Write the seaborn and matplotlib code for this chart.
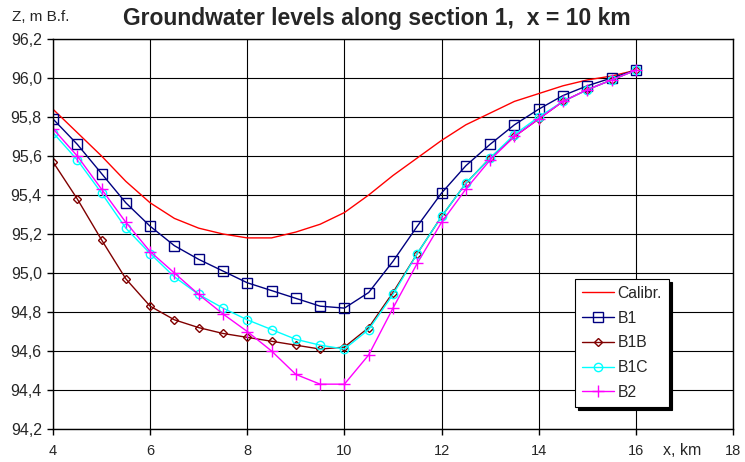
import numpy as np
import pandas as pd
import seaborn as sns
import matplotlib
matplotlib.use("Agg")
import matplotlib.pyplot as plt
from matplotlib.ticker import FuncFormatter

# distance along section, km
x_km = [4.0, 4.5, 5.0, 5.5, 6.0, 6.5, 7.0, 7.5, 8.0, 8.5, 9.0, 9.5, 10.0,
        10.5, 11.0, 11.5, 12.0, 12.5, 13.0, 13.5, 14.0, 14.5, 15.0, 15.5, 16.0]

calibr = [95.84, 95.72, 95.60, 95.47, 95.36, 95.28, 95.23, 95.20, 95.18, 95.18,
          95.21, 95.25, 95.31, 95.40, 95.50, 95.59, 95.68, 95.76, 95.82, 95.88,
          95.92, 95.96, 95.99, 96.01, 96.04]
b1 = [95.79, 95.66, 95.51, 95.36, 95.24, 95.14, 95.07, 95.01, 94.95, 94.91,
      94.87, 94.83, 94.82, 94.90, 95.06, 95.24, 95.41, 95.55, 95.66, 95.76,
      95.84, 95.91, 95.96, 96.00, 96.04]
b1b = [95.57, 95.38, 95.17, 94.97, 94.83, 94.76, 94.72, 94.69, 94.67, 94.65,
       94.63, 94.61, 94.62, 94.72, 94.90, 95.10, 95.29, 95.46, 95.59, 95.70,
       95.79, 95.88, 95.94, 95.99, 96.04]
b1c = [95.72, 95.58, 95.41, 95.23, 95.10, 94.98, 94.89, 94.82, 94.76, 94.71,
       94.66, 94.63, 94.61, 94.71, 94.89, 95.10, 95.29, 95.46, 95.59, 95.71,
       95.80, 95.88, 95.94, 95.99, 96.04]
b2 = [95.74, 95.60, 95.43, 95.26, 95.11, 95.00, 94.89, 94.79, 94.70, 94.60,
      94.48, 94.43, 94.43, 94.58, 94.82, 95.05, 95.26, 95.43, 95.58, 95.70,
      95.79, 95.88, 95.94, 95.99, 96.04]

series_names = ["Calibr.", "B1", "B1B", "B1C", "B2"]
series_vals = [calibr, b1, b1b, b1c, b2]
colors = ["#FF0000", "#000080", "#800000", "#00FFFF", "#FF00FF"]
markers = [None, "s", "D", "o", "+"]
msizes = [0, 7, 4.5, 6, 8]

x_ticks = [4, 6, 8, 10, 12, 14, 16, 18]
y_ticks = [94.2, 94.4, 94.6, 94.8, 95.0, 95.2, 95.4, 95.6, 95.8, 96.0, 96.2]

sns.set_style("ticks")
plt.rcParams['font.family'] = ['Liberation Sans', 'DejaVu Sans']

fig = plt.figure(figsize=(7.45, 4.62), dpi=100)
ax = fig.add_axes([0.0711, 0.0714, 0.9128, 0.8442])

for name, vals, col, mk, ms in zip(series_names, series_vals, colors, markers, msizes):
    df = pd.DataFrame({"x": x_km, "z": vals})
    if mk is None:
        sns.lineplot(data=df, x="x", y="z", color=col, lw=1.0, label=name, ax=ax)
    else:
        sns.lineplot(data=df, x="x", y="z", color=col, lw=1.0, label=name, ax=ax,
                     marker=mk, ms=ms, mfc="none", mec=col, mew=1.0)

ax.set_xlim(4, 18)
ax.set_ylim(94.2, 96.2)
ax.set_xticks(x_ticks)
ax.set_yticks(y_ticks)
ax.yaxis.set_major_formatter(FuncFormatter(lambda v, p: f"{v:.1f}".replace(".", ",")))
ax.tick_params(axis="both", length=4, width=1, color="black", pad=4)
ax.tick_params(axis="x", labelsize=10.5, pad=7)
ax.tick_params(axis="y", labelsize=11.5)
ax.grid(True, color="black", lw=0.8)
for s in ax.spines.values():
    s.set_color("black")
    s.set_linewidth(1)

ax.set_xlabel("x, km", fontsize=11.5)
ax.xaxis.set_label_coords(0.925, -0.035)
ax.set_ylabel("Z, m B.f.", fontsize=11, rotation=0, ha="center", va="bottom")
ax.yaxis.set_label_coords(-0.018, 1.038)

fig.text(0.506, 1 - 18 / 462, "Groundwater levels along section 1,  x = 10 km",
         ha="center", va="center", fontsize=16.5, weight="bold")

leg = ax.legend(loc="upper left", bbox_to_anchor=(0.768, 0.385), fontsize=11.3,
                frameon=True, fancybox=False, edgecolor="black", framealpha=1,
                shadow={"color": "black", "alpha": 1}, handlelength=2.0,
                borderpad=0.45, labelspacing=0.62, handletextpad=0.25,
                borderaxespad=0)
leg.get_frame().set_linewidth(0.8)

fig.savefig("out.png", dpi=100)
